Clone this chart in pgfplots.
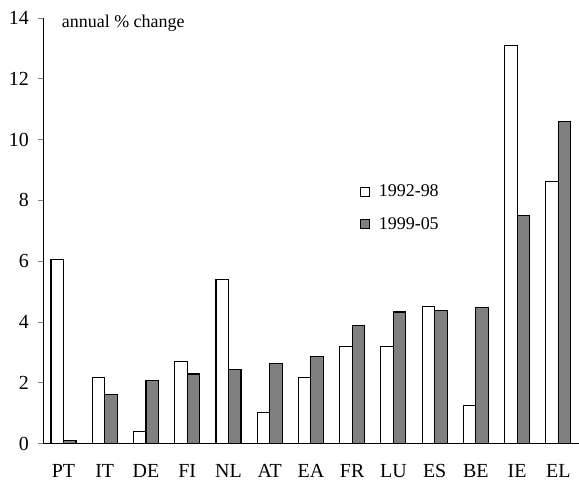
\documentclass[border=0pt]{standalone}
\usepackage{pgfplots}
\pgfplotsset{compat=1.18}
\usepackage{fontspec}
\setmainfont{Liberation Serif}
\definecolor{bargrey}{HTML}{808080}
\begin{document}
\begin{tikzpicture}
\begin{axis}[
  name=ax,
  scale only axis,
  width=403pt, height=320pt,
  xmin=-0.5, xmax=12.5,
  ymin=0, ymax=14,
  ytick={0,2,...,14},
  axis x line=bottom, axis y line=left,
  axis line style={-, line width=0.6pt},
  xtick={0,...,12},
  xticklabels={PT,IT,DE,FI,NL,AT,EA,FR,LU,ES,BE,IE,EL},
  x tick style={draw=none},
  extra x ticks={-0.5,0.5,...,12.5},
  extra x tick labels={},
  extra x tick style={major tick length=5pt, tick align=outside, tick style={draw=black, line width=0.6pt}},
  y tick style={line width=0.6pt},
  major tick length=4pt, tick align=outside,
  ybar=0pt, bar width=9.4pt,
  tick label style={font=\fontsize{15}{18}\selectfont},
  yticklabel style={xshift=-3pt},
  xticklabel style={yshift=-8pt},
  /pgf/number format/assume math mode=true,
  legend style={at={(0.583,0.618)}, anchor=north west, draw=none, fill=none,
    font=\fontsize{13.5}{16}\selectfont, row sep=12pt, column sep=6pt,
    nodes={inner sep=1pt}},
  legend image code/.code={\draw[#1, line width=0.6pt] (0pt,-3.4pt) rectangle (6.8pt,3.4pt);},
  clip=false,
]
\addplot[draw=black, line width=0.8pt, fill=white] coordinates {
(0,6.05) (1,2.19) (2,0.40) (3,2.70) (4,5.41) (5,1.03) (6,2.19) (7,3.18) (8,3.18) (9,4.52) (10,1.24) (11,13.08) (12,8.61)};
\addplot[draw=black, line width=0.8pt, fill=bargrey] coordinates {
(0,0.09) (1,1.61) (2,2.07) (3,2.29) (4,2.44) (5,2.65) (6,2.86) (7,3.90) (8,4.33) (9,4.37) (10,4.48) (11,7.49) (12,10.58)};
\legend{1992-98,1999-05}
\node[anchor=base west, font=\fontsize{13.5}{16}\selectfont, inner sep=0pt] at ([yshift=-7.5pt]rel axis cs:0.035,1.0) {annual \% change};
\end{axis}
\pgfresetboundingbox
\useasboundingbox ([xshift=-32.25pt,yshift=-32.25pt]ax.south west) rectangle ([yshift=13.5pt]ax.north east);
\end{tikzpicture}
\end{document}
